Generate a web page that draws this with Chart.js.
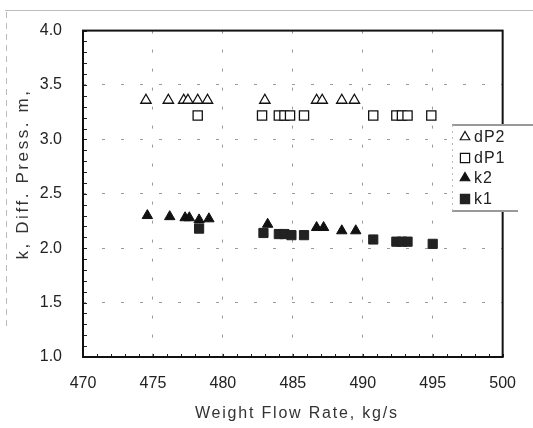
<!DOCTYPE html>
<html><head><meta charset="utf-8">
<script src="https://cdn.jsdelivr.net/npm/chart.js@4.4.0/dist/chart.umd.min.js"></script>
<style>html,body{margin:0;padding:0;background:#fff}#wrap{width:533px;height:428px}</style>
</head><body><div id="wrap"><canvas id="c" width="533" height="428"></canvas></div>
<script>
// ---- data ----
const seriesNames = ['dP2', 'dP1', 'k2', 'k1'];
const dP2Flow = [474.5, 476.1, 477.2, 477.5, 478.2, 478.9, 483.0, 486.7, 487.1, 488.5, 489.4];
const dP2Vals = [3.36, 3.36, 3.36, 3.36, 3.36, 3.36, 3.36, 3.36, 3.36, 3.36, 3.36];
const dP1Flow = [478.2, 482.8, 484.0, 484.4, 484.8, 485.8, 490.75, 492.4, 492.8, 493.2, 494.9];
const dP1Vals = [3.22, 3.22, 3.22, 3.22, 3.22, 3.22, 3.22, 3.22, 3.22, 3.22, 3.22];
const k2Flow = [474.6, 476.2, 477.3, 477.6, 478.3, 479.0, 483.2, 486.7, 487.2, 488.5, 489.5];
const k2Vals = [2.30, 2.29, 2.28, 2.28, 2.26, 2.27, 2.22, 2.19, 2.19, 2.16, 2.16];
const k1Flow = [478.3, 482.9, 484.0, 484.4, 484.9, 485.8, 490.75, 492.4, 492.8, 493.2, 495.0];
const k1Vals = [2.18, 2.14, 2.13, 2.13, 2.12, 2.12, 2.08, 2.06, 2.06, 2.06, 2.04];
const xTicks = [470, 475, 480, 485, 490, 495, 500];
const yTicks = [1.0, 1.5, 2.0, 2.5, 3.0, 3.5, 4.0];
const xTitle = 'Weight Flow Rate, kg/s';
const yTitle = 'k, Diff. Press. m,';

const toPts = (xs, ys) => xs.map((x, i) => ({x: x, y: ys[i]}));
const styles = [
  {pointStyle: 'triangle', pointRadius: 6, backgroundColor: '#fff', borderColor: '#111', borderWidth: 1.3},
  {pointStyle: 'rect', pointRadius: 6.5, backgroundColor: '#fff', borderColor: '#111', borderWidth: 1.3},
  {pointStyle: 'triangle', pointRadius: 6, backgroundColor: '#111', borderColor: '#111', borderWidth: 1},
  {pointStyle: 'rect', pointRadius: 6.5, backgroundColor: '#222', borderColor: '#222', borderWidth: 1}
];
const allData = [toPts(dP2Flow, dP2Vals), toPts(dP1Flow, dP1Vals), toPts(k2Flow, k2Vals), toPts(k1Flow, k1Vals)];
const datasets = seriesNames.map((n, i) => Object.assign({label: n, data: allData[i], showLine: false, pointHoverRadius: styles[i].pointRadius}, styles[i]));

const FONT = "'Liberation Sans', Arial, sans-serif";

function drawMarker(ctx, style, x, y, r, fill, stroke) {
  ctx.save();
  ctx.beginPath();
  if (style === 'triangle') {
    ctx.moveTo(x, y - r);
    ctx.lineTo(x + r * 0.866, y + r * 0.5);
    ctx.lineTo(x - r * 0.866, y + r * 0.5);
    ctx.closePath();
  } else {
    const s = r * Math.SQRT1_2;
    ctx.rect(x - s, y - s, 2 * s, 2 * s);
  }
  ctx.fillStyle = fill; ctx.fill();
  ctx.lineWidth = 1.2; ctx.strokeStyle = stroke; ctx.stroke();
  ctx.restore();
}

const decor = {
  id: 'decor',
  afterDraw(chart) {
    const ctx = chart.ctx, a = chart.chartArea;
    const xs = chart.scales.x, ys = chart.scales.y;
    ctx.save();
    // scan-edge lines
    ctx.strokeStyle = '#bbb'; ctx.lineWidth = 1;
    ctx.beginPath(); ctx.moveTo(5, 10.5); ctx.lineTo(533, 10.5); ctx.stroke();
    ctx.setLineDash([6, 5]);
    ctx.beginPath(); ctx.moveTo(6.5, 12); ctx.lineTo(6.5, 330); ctx.stroke();
    ctx.setLineDash([]);
    // minor ticks
    ctx.strokeStyle = '#222'; ctx.lineWidth = 1;
    for (let i = 0; i <= 30; i++) {
      const py = Math.round(ys.getPixelForValue(1 + i * 0.1)) + 0.5;
      ctx.beginPath(); ctx.moveTo(a.left, py); ctx.lineTo(a.left + 4, py); ctx.stroke();
    }
    for (let v = 470; v <= 500; v++) {
      const px = Math.round(xs.getPixelForValue(v)) + 0.5;
      ctx.beginPath(); ctx.moveTo(px, a.bottom); ctx.lineTo(px, a.bottom - 3); ctx.stroke();
    }
    // frame
    ctx.strokeStyle = '#111'; ctx.lineWidth = 2;
    ctx.strokeRect(a.left, a.top, a.right - a.left, a.bottom - a.top);
    // titles
    ctx.fillStyle = '#333';
    ctx.font = '16px ' + FONT;
    ctx.textAlign = 'center'; ctx.textBaseline = 'alphabetic';
    try { ctx.letterSpacing = '1.8px'; } catch (e) {}
    ctx.fillText(xTitle, (a.left + a.right) / 2 + 4, 418);
    ctx.save();
    ctx.font = '17px ' + FONT;
    try { ctx.letterSpacing = '2.6px'; } catch (e) {}
    ctx.translate(28, 174); ctx.rotate(-Math.PI / 2);
    ctx.fillText(yTitle, 0, 0);
    ctx.restore();
    // legend
    const L = 452, R = 531, T = 125, B = 211;
    ctx.fillStyle = '#fff'; ctx.fillRect(L, T, R - L, B - T);
    ctx.strokeStyle = '#999'; ctx.lineWidth = 2;
    ctx.beginPath(); ctx.moveTo(L, T); ctx.lineTo(533, T); ctx.stroke();
    ctx.beginPath(); ctx.moveTo(L, B); ctx.lineTo(518, B); ctx.stroke();
    ctx.lineWidth = 1; ctx.strokeStyle = '#bbb'; ctx.setLineDash([2, 4]);
    ctx.beginPath(); ctx.moveTo(L + 0.5, T); ctx.lineTo(L + 0.5, B); ctx.stroke();
    ctx.setLineDash([]);
    ctx.font = '16px ' + FONT; ctx.textAlign = 'left'; ctx.textBaseline = 'middle';
    try { ctx.letterSpacing = '1px'; } catch (e) {}
    const rows = [137, 158, 178, 199];
    seriesNames.forEach((n, i) => {
      const st = styles[i];
      drawMarker(ctx, st.pointStyle, 465, rows[i], st.pointStyle === 'rect' ? 6.5 : 5.5, st.backgroundColor, st.borderColor);
      ctx.fillStyle = '#222';
      ctx.fillText(n, 474, rows[i] + 1);
    });
    ctx.restore();
  }
};

new Chart(document.getElementById('c'), {
  type: 'scatter',
  data: {datasets: datasets},
  options: {
    responsive: false, animation: false, devicePixelRatio: 1,
    layout: {padding: {left: 0, right: 16, top: 25, bottom: 0}},
    plugins: {legend: {display: false}, tooltip: {enabled: false}},
    scales: {
      x: {
        type: 'linear', min: 470, max: 500,
        afterBuildTicks: s => { s.ticks = xTicks.map(v => ({value: v})); },
        afterFit: s => { s.height = 71; },
        grid: {color: '#9a9a9a', lineWidth: 1, drawTicks: false},
        border: {display: false, dash: [3, 16]},
        ticks: {padding: 17, color: '#222', font: {family: FONT, size: 16}, callback: v => String(v)}
      },
      y: {
        type: 'linear', min: 1, max: 4,
        afterBuildTicks: s => { s.ticks = yTicks.map(v => ({value: v})); },
        afterFit: s => { s.width = 83; },
        grid: {color: '#9a9a9a', lineWidth: 1, drawTicks: false},
        border: {display: false, dash: [3, 16]},
        ticks: {padding: 21, color: '#222', font: {family: FONT, size: 16}, callback: v => Number(v).toFixed(1)}
      }
    }
  },
  plugins: [decor]
});
</script></body></html>
